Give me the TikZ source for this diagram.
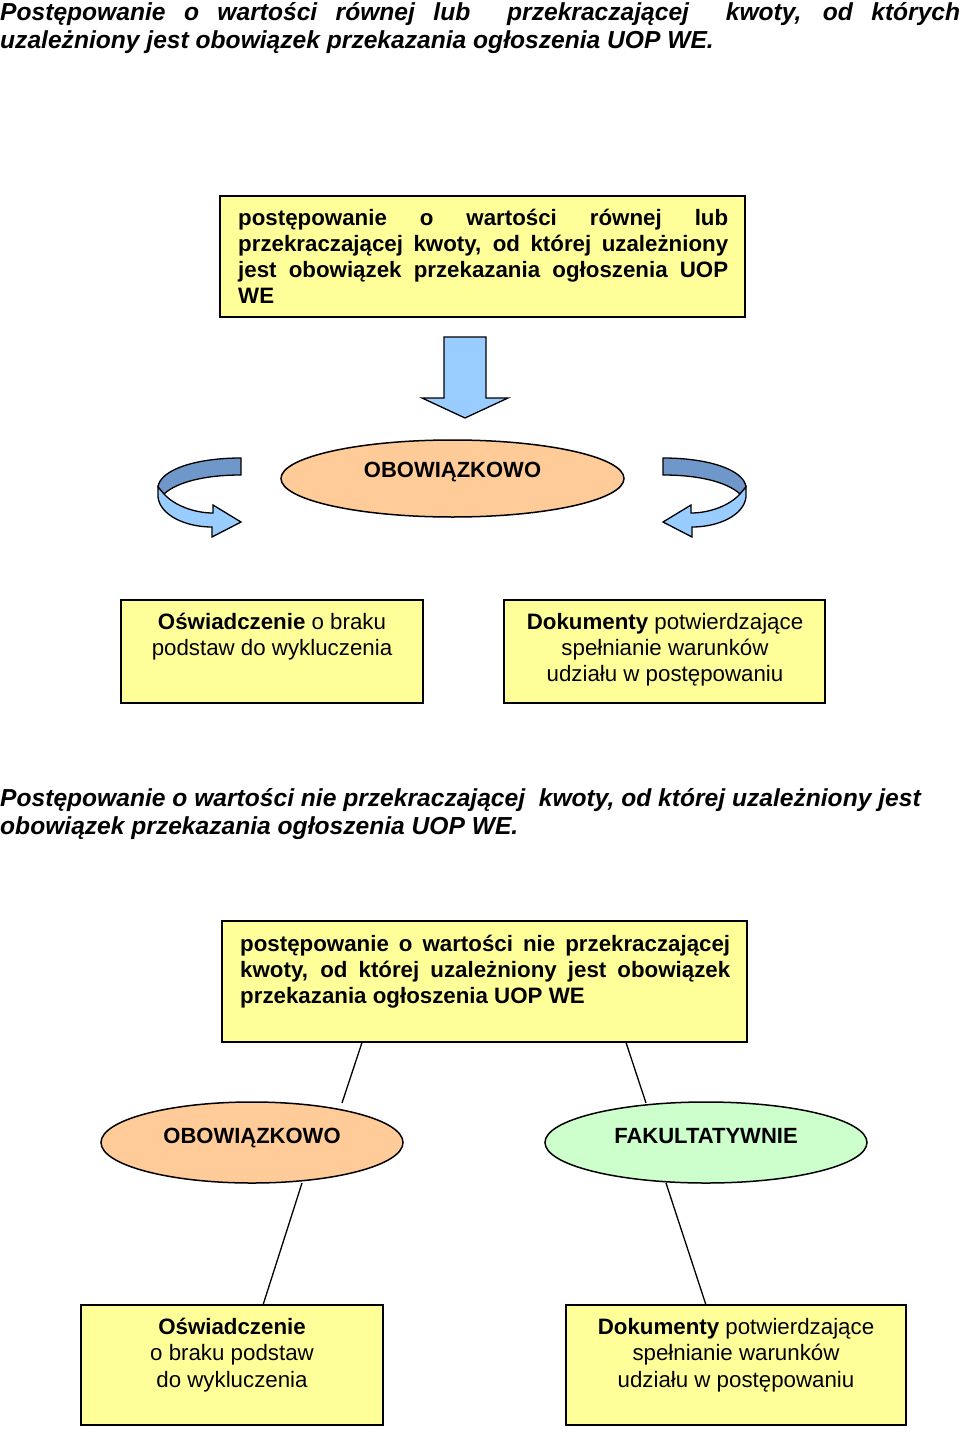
\documentclass[tikz,border=0pt]{standalone}
\usepackage{fontspec}
\setmainfont{Liberation Sans}
\usetikzlibrary{shapes.geometric}
\definecolor{boxyellow}{HTML}{FFFF99}
\definecolor{peach}{HTML}{FFCC99}
\definecolor{mint}{HTML}{CCFFCC}
\definecolor{lblue}{HTML}{99CCFF}
\definecolor{dblue}{HTML}{7097C9}
\tikzset{
  ybox/.style={rectangle, draw=black, line width=1.5pt, fill=boxyellow, inner sep=0pt},
  oval/.style={ellipse, draw=black, line width=1.5pt, inner sep=0pt},
  jtext/.style={font=\fontsize{22.3}{26}\selectfont\bfseries, align=left, anchor=base west, inner sep=0pt},
  ctext/.style={font=\fontsize{22.3}{26}\selectfont, align=center, anchor=base, inner sep=0pt},
  ctextb/.style={font=\fontsize{22.3}{26.5}\selectfont, align=center, anchor=base, inner sep=0pt},
  otext/.style={font=\fontsize{22}{26}\selectfont\bfseries, anchor=base, inner sep=0pt},
  ttext/.style={font=\fontsize{24.6}{28}\selectfont\bfseries\itshape, align=left, anchor=base west, inner sep=0pt},
  conn/.style={line width=1.3pt},
  shapeline/.style={draw=black, line width=1.3pt, line join=miter}
}
\begin{document}
\begin{tikzpicture}[x=1pt,y=-1pt]
\useasboundingbox[fill=white] (0,0) rectangle (960,1434);

% ---------- title 1 (anchor = baseline of last line)
\node[ttext] (title1) at (0,49) {\makebox[960pt][s]{Postępowanie o wartości równej lub\ \ przekraczającej\ \ kwoty, od których}\\uzależniony jest obowiązek przekazania ogłoszenia UOP WE.};

% ---------- box 1
\node[ybox, minimum width=525pt, minimum height=121pt] (box1) at (482.5,256.5) {};
\node[jtext] (box1t) at (238,303) {\makebox[490pt][s]{postępowanie o wartości równej lub}\\\makebox[490pt][s]{przekraczającej kwoty, od której uzależniony}\\\makebox[490pt][s]{jest obowiązek przekazania ogłoszenia UOP}\\WE};

% ---------- down arrow
\draw[shapeline, fill=lblue] (444,337) -- (486,337) -- (486,398) -- (508,398) -- (465,418) -- (422,398) -- (444,398) -- cycle;

% ---------- ellipse 1
\node[oval, fill=peach, minimum width=343pt, minimum height=77pt] (ell1) at (452.5,478.5) {};
\node[otext] (ell1t) at (452.5,477) {OBOWIĄZKOWO};

% ---------- curved arrows
\begin{scope}
  \draw[shapeline, fill=dblue] (241,458) .. controls (195,458) and (160,470) .. (158,487) -- (164,494) .. controls (177,482) and (205,475) .. (241,475) -- cycle;
  \draw[shapeline, fill=lblue] (158,487) -- (164,494) .. controls (175,506) and (195,513) .. (213,513) -- (213,505) -- (241,522) -- (212,537) -- (212,527) .. controls (185,527) and (160,515) .. (158,497) -- cycle;
\end{scope}
\begin{scope}[xshift=904pt, xscale=-1]
  \draw[shapeline, fill=dblue] (241,458) .. controls (195,458) and (160,470) .. (158,487) -- (164,494) .. controls (177,482) and (205,475) .. (241,475) -- cycle;
  \draw[shapeline, fill=lblue] (158,487) -- (164,494) .. controls (175,506) and (195,513) .. (213,513) -- (213,505) -- (241,522) -- (212,537) -- (212,527) .. controls (185,527) and (160,515) .. (158,497) -- cycle;
\end{scope}

% ---------- row 1 boxes
\node[ybox, minimum width=302pt, minimum height=103pt] (r1l) at (272,651.5) {};
\node[ctext] (r1lt) at (272,655) {\textbf{Oświadczenie} o braku\\podstaw do wykluczenia};
\node[ybox, minimum width=321pt, minimum height=103pt] (r1r) at (664.5,651.5) {};
\node[ctext] (r1rt) at (665,681) {\textbf{Dokumenty} potwierdzające\\spełnianie warunków\\udziału w postępowaniu};

% ---------- title 2
\node[ttext] (title2) at (0,834) {Postępowanie o wartości nie przekraczającej\ \ kwoty, od której uzależniony jest\\obowiązek przekazania ogłoszenia UOP WE.};

% ---------- box 3
\node[ybox, minimum width=525pt, minimum height=121pt] (box3) at (484.5,981.5) {};
\node[jtext] (box3t) at (240,1003) {\makebox[490pt][s]{postępowanie o wartości nie przekraczającej}\\\makebox[490pt][s]{kwoty, od której uzależniony jest obowiązek}\\przekazania ogłoszenia UOP WE};

% ---------- row 3 ellipses
\node[oval, fill=peach, minimum width=302pt, minimum height=81pt] (ell2) at (252,1142.5) {};
\node[otext] (ell2t) at (252,1143) {OBOWIĄZKOWO};
\node[oval, fill=mint, minimum width=322pt, minimum height=81pt] (ell3) at (706,1142.5) {};
\node[otext] (ell3t) at (706,1143) {FAKULTATYWNIE};

% ---------- bottom boxes
\node[ybox, minimum width=302pt, minimum height=120pt] (b4l) at (232,1365) {};
\node[ctextb] (b4lt) at (232,1387) {\textbf{Oświadczenie}\\o braku podstaw\\do wykluczenia};
\node[ybox, minimum width=340pt, minimum height=120pt] (b4r) at (736,1365) {};
\node[ctextb] (b4rt) at (736,1387) {\textbf{Dokumenty} potwierdzające\\spełnianie warunków\\udziału w postępowaniu};

% ---------- connectors
\coordinate (c1) at (362,1042.5);
\coordinate (c2) at (342,1103);
\coordinate (c3) at (626,1042.5);
\coordinate (c4) at (646,1103);
\coordinate (c5) at (302,1183);
\coordinate (c6) at (263,1305);
\coordinate (c7) at (666,1183);
\coordinate (c8) at (706,1305);
\draw[conn] (c1) -- (c2);
\draw[conn] (c3) -- (c4);
\draw[conn] (c5) -- (c6);
\draw[conn] (c7) -- (c8);
\end{tikzpicture}
\end{document}
